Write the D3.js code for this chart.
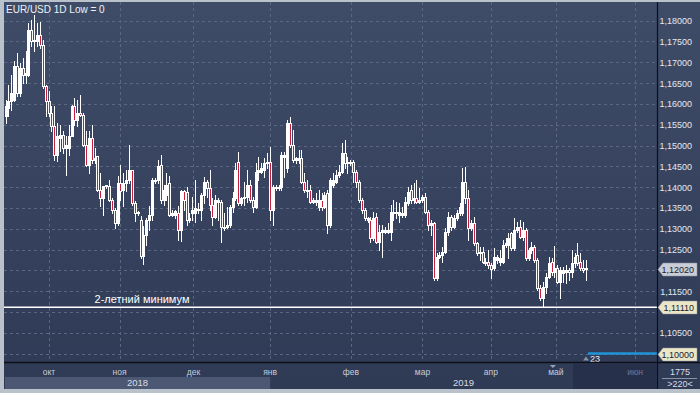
<!DOCTYPE html>
<html><head><meta charset="utf-8">
<script src="https://cdn.jsdelivr.net/npm/d3@7"></script>
<style>html,body{margin:0;padding:0;background:#b9c1cb;}svg{display:block;}</style>
</head><body>
<script>
// ---- data ----
const opens = [
1.1570,1.1590,1.1606,1.1610,1.1690,1.1626,1.1686,1.1670,1.1670,1.1778,1.1750,1.1750,1.1766,1.1742,1.1642,1.1606,1.1578,1.1546,1.1478,1.1518,
1.1526,1.1494,1.1494,1.1522,1.1594,1.1562,1.1578,1.1574,1.1502,1.1454,1.1518,1.1466,1.1474,1.1394,1.1374,1.1402,1.1402,1.1370,1.1346,1.1314,
1.1410,1.1394,1.1410,1.1418,1.1442,1.1362,1.1340,1.1322,1.1234,1.1286,1.1322,1.1334,1.1414,1.1418,1.1454,1.1370,1.1382,1.1410,1.1334,1.1334,
1.1338,1.1298,1.1390,
1.1389,1.1321,1.1337,1.1337,1.1345,1.1345,1.1381,1.1413,1.1397,1.1357,1.1329,1.1365,1.1365,1.1301,1.1305,1.1309,1.1353,1.1373,1.1461,1.1361,
1.1373,1.1377,1.1405,1.1369,1.1353,1.1437,1.1437,1.1441,1.1457,1.1461,1.1345,1.1397,1.1401,1.1401,1.1473,1.1445,1.1553,1.1501,1.1465,1.1465,
1.1469,1.1413,1.1391,1.1393,1.1365,1.1365,1.1353,1.1369,1.1353,1.1385,1.1309,1.1405,1.1413,1.1429,1.1437,1.1481,1.1457,1.1457,1.1461,1.1437,
1.1413,1.1369,1.1345,1.1321,1.1321,
1.1277,1.1329,1.1269,1.1293,1.1293,1.1293,1.1293,1.1337,1.1341,1.1333,1.1333,1.1333,1.1361,1.1393,1.1369,1.1373,1.1365,1.1369,1.1377,1.1341,
1.1309,1.1313,1.1181,1.1233,1.1237,1.1245,1.1293,1.1329,1.1305,1.1325,1.1337,1.1337,1.1413,1.1373,1.1301,1.1313,1.1265,1.1241,1.1245,1.1217,
1.1221,1.1213,1.1205,1.1225,1.1221,1.1221,1.1261,1.1261,1.1289,1.1253,1.1297,1.1305,1.1281,1.1297,1.1229,1.1249,1.1257,1.1225,1.1157,1.1133,
1.1161,1.1185,
1.1221,1.1195,1.1205,1.1173,1.1193,1.1197,1.1201,1.1197,1.1217,1.1237,1.1221,1.1205,1.1205];
const highs = [
1.1610,1.1646,1.1670,1.1702,1.1722,1.1698,1.1710,1.1726,1.1794,1.1802,1.1814,1.1794,1.1798,1.1754,1.1646,1.1630,1.1594,1.1594,1.1554,1.1550,
1.1534,1.1522,1.1550,1.1598,1.1614,1.1610,1.1622,1.1578,1.1534,1.1534,1.1550,1.1494,1.1474,1.1434,1.1402,1.1406,1.1418,1.1374,1.1350,1.1426,
1.1454,1.1434,1.1442,1.1502,1.1442,1.1366,1.1342,1.1330,1.1306,1.1326,1.1354,1.1422,1.1422,1.1466,1.1478,1.1406,1.1434,1.1426,1.1346,1.1346,
1.1354,1.1394,1.1394,
1.1401,1.1337,1.1377,1.1417,1.1361,1.1385,1.1425,1.1417,1.1441,1.1373,1.1381,1.1373,1.1369,1.1337,1.1353,1.1357,1.1389,1.1457,1.1485,1.1377,
1.1413,1.1441,1.1417,1.1377,1.1457,1.1473,1.1457,1.1469,1.1481,1.1497,1.1405,1.1405,1.1405,1.1485,1.1485,1.1561,1.1569,1.1537,1.1473,1.1489,
1.1489,1.1433,1.1417,1.1405,1.1373,1.1385,1.1393,1.1385,1.1389,1.1393,1.1421,1.1433,1.1441,1.1453,1.1505,1.1513,1.1473,1.1465,1.1465,1.1441,
1.1417,1.1373,1.1349,1.1329,1.1329,
1.1341,1.1337,1.1309,1.1309,1.1305,1.1313,1.1357,1.1369,1.1365,1.1361,1.1353,1.1377,1.1401,1.1405,1.1409,1.1417,1.1397,1.1381,1.1385,1.1345,
1.1321,1.1317,1.1241,1.1245,1.1257,1.1301,1.1341,1.1333,1.1333,1.1345,1.1361,1.1445,1.1449,1.1393,1.1321,1.1329,1.1269,1.1257,1.1257,1.1229,
1.1249,1.1217,1.1253,1.1237,1.1249,1.1273,1.1277,1.1289,1.1293,1.1325,1.1317,1.1321,1.1317,1.1301,1.1253,1.1269,1.1261,1.1229,1.1165,1.1173,
1.1193,1.1233,
1.1229,1.1258,1.1213,1.1209,1.1209,1.1213,1.1205,1.1249,1.1241,1.1265,1.1241,1.1225,1.1225];
const lows = [
1.1554,1.1570,1.1586,1.1606,1.1618,1.1618,1.1650,1.1650,1.1666,1.1738,1.1726,1.1738,1.1734,1.1638,1.1570,1.1570,1.1534,1.1466,1.1462,1.1486,
1.1482,1.1430,1.1478,1.1522,1.1550,1.1546,1.1570,1.1498,1.1450,1.1434,1.1458,1.1458,1.1390,1.1354,1.1334,1.1398,1.1366,1.1338,1.1302,1.1310,
1.1370,1.1354,1.1390,1.1410,1.1358,1.1318,1.1334,1.1230,1.1214,1.1262,1.1298,1.1322,1.1410,1.1410,1.1362,1.1358,1.1370,1.1330,1.1330,1.1326,
1.1274,1.1270,1.1346,
1.1309,1.1317,1.1321,1.1317,1.1337,1.1321,1.1361,1.1377,1.1345,1.1309,1.1325,1.1321,1.1269,1.1297,1.1301,1.1305,1.1341,1.1369,1.1357,1.1357,
1.1357,1.1365,1.1365,1.1341,1.1349,1.1417,1.1433,1.1425,1.1445,1.1321,1.1309,1.1393,1.1393,1.1393,1.1425,1.1437,1.1497,1.1461,1.1457,1.1457,
1.1409,1.1389,1.1377,1.1361,1.1361,1.1357,1.1345,1.1345,1.1349,1.1289,1.1305,1.1401,1.1409,1.1425,1.1433,1.1445,1.1433,1.1453,1.1413,1.1401,
1.1365,1.1337,1.1321,1.1317,1.1269,
1.1273,1.1265,1.1249,1.1233,1.1289,1.1289,1.1273,1.1321,1.1325,1.1317,1.1329,1.1329,1.1357,1.1361,1.1361,1.1361,1.1361,1.1365,1.1337,1.1297,
1.1285,1.1177,1.1177,1.1229,1.1221,1.1241,1.1285,1.1297,1.1301,1.1321,1.1333,1.1333,1.1361,1.1273,1.1297,1.1261,1.1237,1.1225,1.1217,1.1213,
1.1205,1.1181,1.1201,1.1217,1.1213,1.1217,1.1257,1.1229,1.1249,1.1249,1.1293,1.1277,1.1273,1.1225,1.1225,1.1241,1.1221,1.1153,1.1129,1.1113,
1.1145,1.1181,
1.1189,1.1185,1.1169,1.1133,1.1173,1.1169,1.1177,1.1185,1.1209,1.1213,1.1201,1.1197,1.1177];
const closes = [
1.1594,1.1606,1.1626,1.1690,1.1626,1.1686,1.1670,1.1674,1.1778,1.1750,1.1754,1.1766,1.1742,1.1642,1.1606,1.1578,1.1546,1.1478,1.1522,1.1526,
1.1494,1.1502,1.1522,1.1594,1.1562,1.1578,1.1574,1.1502,1.1454,1.1518,1.1466,1.1470,1.1394,1.1374,1.1402,1.1404,1.1370,1.1346,1.1314,1.1410,
1.1390,1.1410,1.1418,1.1442,1.1362,1.1338,1.1337,1.1234,1.1286,1.1322,1.1334,1.1418,1.1418,1.1450,1.1370,1.1394,1.1406,1.1334,1.1338,1.1342,
1.1298,1.1390,1.1370,
1.1321,1.1325,1.1345,1.1349,1.1347,1.1381,1.1413,1.1397,1.1357,1.1329,1.1369,1.1369,1.1305,1.1305,1.1309,1.1353,1.1373,1.1441,1.1361,1.1373,
1.1377,1.1405,1.1369,1.1353,1.1437,1.1441,1.1445,1.1457,1.1461,1.1345,1.1401,1.1401,1.1397,1.1477,1.1477,1.1553,1.1501,1.1465,1.1469,1.1469,
1.1413,1.1393,1.1394,1.1365,1.1369,1.1369,1.1369,1.1353,1.1381,1.1309,1.1417,1.1417,1.1429,1.1437,1.1481,1.1457,1.1461,1.1461,1.1437,1.1413,
1.1369,1.1345,1.1325,1.1325,1.1277,
1.1325,1.1269,1.1293,1.1297,1.1297,1.1297,1.1341,1.1341,1.1337,1.1341,1.1337,1.1365,1.1389,1.1369,1.1373,1.1365,1.1369,1.1377,1.1341,1.1309,
1.1313,1.1181,1.1233,1.1237,1.1245,1.1293,1.1329,1.1305,1.1325,1.1337,1.1353,1.1413,1.1373,1.1301,1.1313,1.1265,1.1241,1.1245,1.1221,1.1221,
1.1213,1.1203,1.1233,1.1233,1.1229,1.1261,1.1265,1.1277,1.1253,1.1297,1.1305,1.1281,1.1297,1.1229,1.1249,1.1257,1.1225,1.1157,1.1133,1.1161,
1.1185,1.1217,
1.1195,1.1205,1.1173,1.1201,1.1201,1.1201,1.1197,1.1217,1.1233,1.1217,1.1205,1.1201,1.1202];

const monthLabels = ["окт","ноя","дек","янв","фев","мар","апр","май","июн"];
const monthIndex  = [15.1, 39.7, 65.4, 92.1, 120.2, 145.1, 168.9, 191.5, 219.1];
const yearLabels  = ["2018","2019"];
const priceTicks  = [1.100,1.105,1.110,1.115,1.120,1.125,1.130,1.135,1.140,1.145,1.150,1.155,1.160,1.165,1.170,1.175,1.180];
const lastPrice   = 1.1202;
const twoYearLow  = 1.1111;
const levelLine   = 1.1000;
const futureStartIndex = 197.5;
const levelLineStartIndex = 202.7;
const title = "EUR/USD 1D Low = 0";
const lowText = "2-летний минимум";
const cornerTop = "1775", cornerBottom = ">220<";

// ---- chart ----
const W = 700, H = 393;
const plot = {l: 4, r: 657, t: 2, b: 362};
const FONT = "'Liberation Sans', Arial, sans-serif";
const N = opens.length;
const candles = d3.range(N).map(i => ({i, o: opens[i], h: highs[i], l: lows[i], c: closes[i]}));

const x = d3.scaleLinear().domain([0, N - 1]).range([5.5, 586]);
const y = d3.scaleLinear().domain([1.10, 1.18]).range([353.5, 20.7]);
const fmt = v => d3.format(".5f")(v).replace(".", ",");

const svg = d3.select("body").append("svg").attr("width", W).attr("height", H)
  .style("font-family", FONT);

const defs = svg.append("defs");
const g1 = defs.append("linearGradient").attr("id", "bg").attr("x1", 0).attr("y1", 0).attr("x2", 0).attr("y2", 1);
g1.append("stop").attr("offset", "0%").attr("stop-color", "#3f4c68");
g1.append("stop").attr("offset", "100%").attr("stop-color", "#2f3a55");
defs.append("clipPath").attr("id", "pc").append("rect")
  .attr("x", plot.l).attr("y", plot.t).attr("width", plot.r - plot.l).attr("height", plot.b - plot.t);

// frame
svg.append("rect").attr("width", W).attr("height", H).attr("fill", "#b9c1cb");
svg.append("rect").attr("x", plot.l).attr("y", plot.t).attr("width", W - plot.l).attr("height", 389 - plot.t).attr("fill", "url(#bg)");

const pg = svg.append("g").attr("clip-path", "url(#pc)");

// horizontal grid
pg.selectAll("line.hg").data(priceTicks).join("line")
  .attr("x1", plot.l).attr("x2", plot.r)
  .attr("y1", d => Math.round(y(d)) + 0.5).attr("y2", d => Math.round(y(d)) + 0.5)
  .attr("stroke", "#5b6782").attr("stroke-dasharray", "3,3");
// vertical grid
pg.selectAll("line.vg").data(monthIndex).join("line")
  .attr("x1", d => Math.round(x(d)) + 0.5).attr("x2", d => Math.round(x(d)) + 0.5)
  .attr("y1", plot.t).attr("y2", plot.b)
  .attr("stroke", "#5b6782").attr("stroke-dasharray", "3,3");

// 2-year low line
pg.append("line").attr("x1", plot.l).attr("x2", plot.r)
  .attr("y1", y(twoYearLow)).attr("y2", y(twoYearLow))
  .attr("stroke", "#ffffff").attr("stroke-width", 1.4);
pg.append("text").attr("x", 142).attr("y", y(twoYearLow) - 4).attr("text-anchor", "middle")
  .attr("font-size", 11).attr("fill", "#ffffff").text(lowText);

// level line
pg.append("line").attr("x1", x(levelLineStartIndex)).attr("x2", plot.r)
  .attr("y1", y(levelLine)).attr("y2", y(levelLine))
  .attr("stroke", "#1f95d8").attr("stroke-width", 2.5);
pg.append("path").attr("d", `M${x(levelLineStartIndex)-5},${y(levelLine)+7} l3,-4 l3,4 z`).attr("fill", "#8a93a5");
pg.append("text").attr("x", x(levelLineStartIndex) + 2).attr("y", y(levelLine) + 8.5)
  .attr("font-size", 9).attr("fill", "#e8ecf2").text("23");

// candles
const cg = pg.append("g");
candles.forEach(d => {
  const cx = Math.round(x(d.i)) + 0.5;
  cg.append("line").attr("x1", cx).attr("x2", cx)
    .attr("y1", Math.round(y(d.h))).attr("y2", Math.round(y(d.l)) + 1)
    .attr("stroke", "#ffffff").attr("stroke-width", 1);
  const top = Math.round(y(Math.max(d.o, d.c)));
  const bot = Math.round(y(Math.min(d.o, d.c)));
  const up = d.c >= d.o;
  cg.append("rect").attr("x", cx - 1).attr("y", top + 0.5)
    .attr("width", 2).attr("height", Math.max(1, bot - top))
    .attr("fill", up ? "#ffffff" : "#c4203c").attr("stroke", "#ffffff").attr("stroke-width", 1);
});

// title
svg.append("text").attr("x", 6).attr("y", 13).attr("font-size", 10).attr("fill", "#f0f2f6").text(title);

// right axis
svg.append("line").attr("x1", plot.r + 0.5).attr("x2", plot.r + 0.5).attr("y1", plot.t).attr("y2", 389)
  .attr("stroke", "#0c0f18").attr("stroke-width", 1.2);
const tags = [lastPrice, twoYearLow, levelLine];
const shownTicks = priceTicks.filter(t => tags.every(v => Math.abs(y(t) - y(v)) > 9));
svg.append("g").selectAll("text").data(shownTicks).join("text")
  .attr("x", 692).attr("y", d => y(d) + 3.5).attr("text-anchor", "end")
  .attr("font-size", 9).attr("fill", "#e4e8ef").text(d => fmt(d));

function priceTag(v, fill) {
  const yy = Math.round(y(v)) + 0.5;
  svg.append("path").attr("d", `M${plot.r + 1},${yy} L${plot.r + 6},${yy - 6.5} L697,${yy - 6.5} L697,${yy + 6.5} L${plot.r + 6},${yy + 6.5} Z`)
    .attr("fill", fill).attr("stroke", "#8d93a0").attr("stroke-width", 0.5);
  svg.append("text").attr("x", 694).attr("y", yy + 3.5).attr("text-anchor", "end")
    .attr("font-size", 9).attr("fill", "#1b2233").text(fmt(v));
}
priceTag(lastPrice, "#c9cdd5");
priceTag(twoYearLow, "#ebe7c6");
priceTag(levelLine, "#ebe7c6");

// bottom axis
svg.append("line").attr("x1", plot.l).attr("x2", W).attr("y1", plot.b + 0.5).attr("y2", plot.b + 0.5)
  .attr("stroke", "#0c0f18").attr("stroke-width", 1.5);
const x18 = x(monthIndex[3]);
svg.append("rect").attr("x", 5).attr("y", 377).attr("width", x18 - 5).attr("height", 12).attr("fill", "#4b5773");
svg.append("rect").attr("x", x(futureStartIndex)).attr("y", 363).attr("width", plot.r - x(futureStartIndex)).attr("height", 26).attr("fill", "#27304a");
svg.append("g").selectAll("text").data(monthLabels).join("text")
  .attr("x", (d, i) => x(monthIndex[i])).attr("y", 375).attr("text-anchor", "middle")
  .attr("font-size", 8.5).attr("fill", (d, i) => x(monthIndex[i]) > x(futureStartIndex) ? "#6f7a93" : "#c6cdd9").text(d => d);
svg.append("text").attr("x", (5 + x18) / 2).attr("y", 386).attr("text-anchor", "middle")
  .attr("font-size", 9.5).attr("fill", "#d8dde6").text(yearLabels[0]);
svg.append("text").attr("x", (x18 + plot.r) / 2).attr("y", 386).attr("text-anchor", "middle")
  .attr("font-size", 9.5).attr("fill", "#d8dde6").text(yearLabels[1]);
svg.append("path").attr("d", `M${x(190.5)-3},365 l6,0 l-3,3 z`).attr("fill", "#9aa3b5");

// corner
svg.append("text").attr("x", 680).attr("y", 375).attr("text-anchor", "middle").attr("font-size", 9).attr("fill", "#d8dde6").text(cornerTop);
svg.append("line").attr("x1", 662).attr("x2", 697).attr("y1", 378.5).attr("y2", 378.5).attr("stroke", "#8a93a5");
svg.append("text").attr("x", 680).attr("y", 387).attr("text-anchor", "middle").attr("font-size", 9).attr("fill", "#d8dde6").text(cornerBottom);
</script>
</body></html>
